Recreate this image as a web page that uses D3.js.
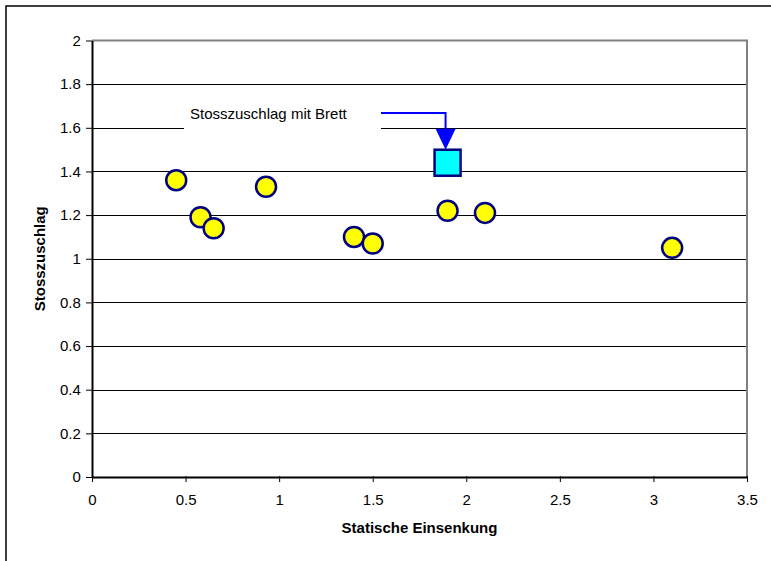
<!DOCTYPE html>
<html>
<head>
<meta charset="utf-8">
<script src="https://cdn.jsdelivr.net/npm/d3@7"></script>
<style>
	body { margin: 0; background: #fff; }
	svg { display: block; font-family: Arial, "Liberation Sans", sans-serif; }
</style>
</head>
<body>
<div id="chart"></div>
<script>
// measured points (static deflection vs impact factor)
const einsenkung = [0.45, 0.58, 0.65, 0.93, 1.4, 1.5, 1.9, 2.1, 3.1];
const stosszuschlag = [1.36, 1.19, 1.14, 1.33, 1.1, 1.07, 1.22, 1.21, 1.05];

// the one with the board
const brettX = [1.9];
const brettY = [1.44];
const brettLabel = "Stosszuschlag mit Brett";

const xTicks = [0, 0.5, 1, 1.5, 2, 2.5, 3, 3.5];
const yTicks = [0, 0.2, 0.4, 0.6, 0.8, 1, 1.2, 1.4, 1.6, 1.8, 2];

var width = 771,
	height = 561;

const margin = { left: 92, top: 40.5, right: 24, bottom: 84 };

var svg = d3
	.select("#chart")
	.append("svg")
	.attr("width", width)
	.attr("height", height);

// outer chart frame (runs off the right/bottom edge)
svg.append("rect")
	.attr("x", 6)
	.attr("y", 6)
	.attr("width", width + 10)
	.attr("height", height + 10)
	.attr("fill", "#fff")
	.attr("stroke", "#000")
	.attr("stroke-width", 1.5);

var x = d3.scaleLinear().domain([0, 3.5]).range([margin.left, width - margin.right]);
var y = d3.scaleLinear().domain([0, 2]).range([height - margin.bottom, margin.top]);

// gridlines
svg.append("g")
	.selectAll("line")
	.data(yTicks.filter((d) => d > 0 && d < 2))
	.join("line")
	.attr("x1", x(0))
	.attr("x2", x(3.5))
	.attr("y1", (d) => Math.round(y(d)) + 0.5)
	.attr("y2", (d) => Math.round(y(d)) + 0.5)
	.attr("stroke", "#000")
	.attr("stroke-width", 1);

// plot area border, top and right in gray
svg.append("path")
	.attr("d", `M${x(0)},${y(2)}H${x(3.5)}V${y(0)}`)
	.attr("fill", "none")
	.attr("stroke", "#808080")
	.attr("stroke-width", 2);

// axes
const xAxis = svg.append("g")
	.attr("transform", `translate(0,${y(0)})`)
	.call(d3.axisBottom(x).tickValues(xTicks).tickFormat(d3.format("")).tickSize(5).tickSizeOuter(0));
xAxis.selectAll("text").attr("dy", "1.3em");

const yAxis = svg.append("g")
	.attr("transform", `translate(${x(0)},0)`)
	.call(d3.axisLeft(y).tickValues(yTicks).tickFormat(d3.format("")).tickSize(6).tickSizeOuter(0));
yAxis.selectAll("text").attr("dx", "-0.15em");

[xAxis, yAxis].forEach((a) => {
	a.select(".domain").attr("stroke", "#000").attr("stroke-width", 2);
	a.selectAll(".tick line").attr("stroke", "#000");
	a.selectAll("text").attr("font-size", 15).attr("fill", "#000").attr("font-family", "Arial, 'Liberation Sans', sans-serif");
});
xAxis.selectAll(".tick line").attr("transform", "translate(0,-1)").attr("y2", 6);

// axis titles
svg.append("text")
	.attr("x", (x(0) + x(3.5)) / 2)
	.attr("y", 533)
	.attr("text-anchor", "middle")
	.attr("font-size", 15)
	.attr("font-weight", "bold")
	.text("Statische Einsenkung");

svg.append("text")
	.attr("transform", `translate(45,${(y(0) + y(2)) / 2}) rotate(-90)`)
	.attr("text-anchor", "middle")
	.attr("font-size", 15)
	.attr("font-weight", "bold")
	.text("Stosszuschlag");

// annotation label with white box hiding the gridline
const lbl = svg.append("g");
lbl.append("rect")
	.attr("x", 184)
	.attr("y", 100)
	.attr("width", 197)
	.attr("height", 31)
	.attr("fill", "#fff");
lbl.append("text")
	.attr("x", 190)
	.attr("y", 119)
	.attr("font-size", 15)
	.attr("fill", "#000")
	.text(brettLabel);

// arrow down to the board point
const ax = x(brettX[0]) - 2;
svg.append("path")
	.attr("d", `M381,${113}H${ax}V${y(brettY[0]) - 32}`)
	.attr("fill", "none")
	.attr("stroke", "#0000ff")
	.attr("stroke-width", 2);
svg.append("path")
	.attr("d", `M${ax - 10},${y(brettY[0]) - 34}L${ax + 10},${y(brettY[0]) - 34}L${ax},${y(brettY[0]) - 13}Z`)
	.attr("fill", "#0000ff");

// data points
svg.append("g")
	.selectAll("circle")
	.data(einsenkung.map((d, i) => [d, stosszuschlag[i]]))
	.join("circle")
	.attr("cx", (d) => x(d[0]))
	.attr("cy", (d) => y(d[1]))
	.attr("r", 10)
	.attr("fill", "#ffff00")
	.attr("stroke", "#000080")
	.attr("stroke-width", 2.5);

svg.append("g")
	.selectAll("rect")
	.data(brettX.map((d, i) => [d, brettY[i]]))
	.join("rect")
	.attr("x", (d) => x(d[0]) - 13)
	.attr("y", (d) => y(d[1]) - 13)
	.attr("width", 26)
	.attr("height", 26)
	.attr("fill", "#00ffff")
	.attr("stroke", "#000080")
	.attr("stroke-width", 2.5);
</script>
</body>
</html>
